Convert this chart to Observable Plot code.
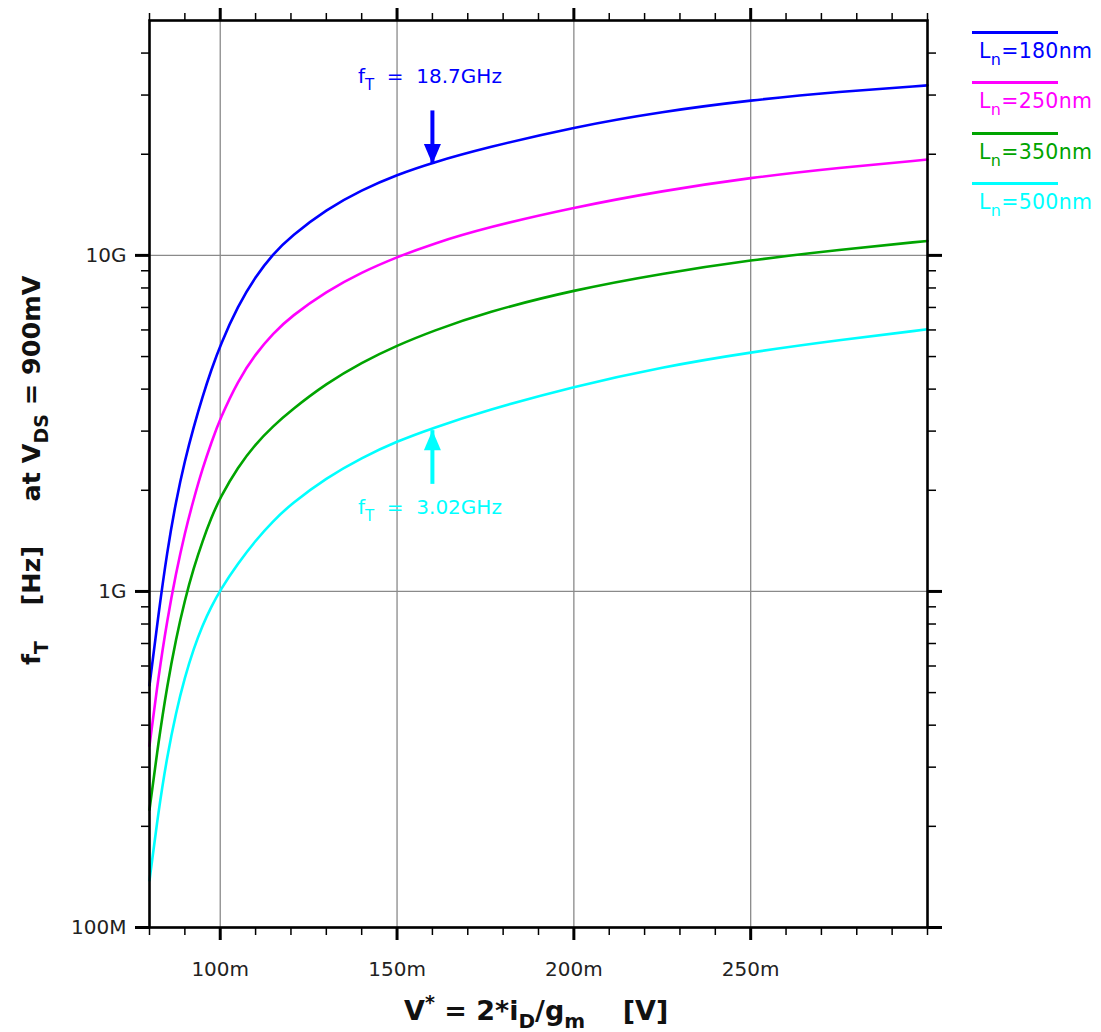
<!DOCTYPE html>
<html>
<head>
<meta charset="utf-8">
<script src="https://cdn.jsdelivr.net/npm/d3@7"></script>
<script src="https://cdn.jsdelivr.net/npm/@observablehq/plot@0.6"></script>
<style>
  body { margin: 0; background: white; }
  #wrap { position: relative; width: 1101px; height: 1032px; font-family: "DejaVu Sans", Verdana, sans-serif; }
  #chart { position: absolute; left: 0; top: 0; }
  .leg-line { position: absolute; left: 972px; width: 86px; height: 3px; }
  .leg-text { position: absolute; left: 979px; font-size: 20.5px; line-height: 1; white-space: pre; letter-spacing: 0.3px; }
  .leg-text sub { font-size: 16px; vertical-align: -7px; line-height: 0; }
</style>
</head>
<body>
<div id="wrap"><div id="chart"></div></div>
<script>
// ---- data ----
const vstar = [0.080, 0.0825, 0.085, 0.0875, 0.090, 0.0925, 0.095, 0.0975, 0.100, 0.105, 0.110, 0.115, 0.120, 0.130, 0.140, 0.150, 0.160, 0.175, 0.200, 0.225, 0.250, 0.275, 0.300]; // V
// fT in GHz
const ft180 = [0.525, 0.851, 1.318, 1.862, 2.455, 3.090, 3.802, 4.571, 5.408, 7.079, 8.660, 10.12, 11.40, 13.71, 15.67, 17.38, 18.88, 20.89, 24.10, 26.79, 28.97, 30.69, 32.06];
const ft250 = [0.347, 0.556, 0.822, 1.135, 1.496, 1.884, 2.323, 2.777, 3.273, 4.238, 5.093, 5.869, 6.577, 7.816, 8.913, 9.890, 10.82, 12.08, 13.90, 15.56, 17.04, 18.24, 19.28];
const ft350 = [0.224, 0.355, 0.525, 0.724, 0.944, 1.175, 1.413, 1.660, 1.905, 2.344, 2.748, 3.108, 3.457, 4.159, 4.803, 5.396, 5.954, 6.767, 7.896, 8.839, 9.683, 10.40, 11.04];
const ft500 = [0.138, 0.221, 0.324, 0.437, 0.556, 0.676, 0.794, 0.902, 1.010, 1.211, 1.419, 1.622, 1.820, 2.178, 2.500, 2.799, 3.062, 3.451, 4.074, 4.656, 5.152, 5.598, 6.026];

const seriesNames = ["180nm", "250nm", "350nm", "500nm"];
const seriesColors = ["#0000ff", "#ff00ff", "#00a400", "#00ffff"];
const seriesValues = [ft180, ft250, ft350, ft500];

const xMajor = [0.10, 0.15, 0.20, 0.25];
const xTickLabels = ["100m", "150m", "200m", "250m"];
const yMajor = [0.1, 1, 10];
const yTickLabels = ["100M", "1G", "10G"];

// annotations: arrow at V*=160m
const annotSeries = ["180nm", "500nm"];
const annotX = [0.16, 0.16];
const annotTip = [18.7, 3.02];     // GHz
const annotTail = [27.0, 2.09];    // GHz
const annotText = ["18.7GHz", "3.02GHz"];

// ---- build ----
const rows = [];
seriesNames.forEach((name, i) => vstar.forEach((v, j) => rows.push({v, ft: seriesValues[i][j], L: name})));
const arrows = annotSeries.map((L, i) => ({L, x: annotX[i], tip: annotTip[i], tail: annotTail[i]}));

const xMinor = d3.range(8, 31).map(k => k / 100);
const yMinor = yMajor.flatMap(d => d3.range(2, 10).map(k => k * d)).filter(v => v < 50);

const headDown = {draw(c) { c.moveTo(0, 0); c.lineTo(-8.5, -20); c.lineTo(8.5, -20); c.closePath(); }};
const headUp = {draw(c) { c.moveTo(0, 0); c.lineTo(-8.5, 20); c.lineTo(8.5, 20); c.closePath(); }};

const tickStyle = {fill: "none", label: null, stroke: "black"};

const plot = Plot.plot({
  width: 945,
  height: 1032,
  marginLeft: 149,
  marginRight: 18,
  marginTop: 20,
  marginBottom: 105,
  style: {fontFamily: "DejaVu Sans, Verdana, sans-serif", fontSize: "20px", color: "#222", background: "white"},
  x: {domain: [0.08, 0.3]},
  y: {type: "log", domain: [0.1, 50]},
  color: {domain: seriesNames, range: seriesColors},
  marks: [
    Plot.gridX(xMajor, {stroke: "#8a8a8a", strokeOpacity: 1, strokeWidth: 1.3}),
    Plot.gridY(yMajor, {stroke: "#8a8a8a", strokeOpacity: 1, strokeWidth: 1.3}),
    Plot.line(rows, {x: "v", y: "ft", z: "L", stroke: "L", strokeWidth: 2.6, curve: "basis"}),
    Plot.link(arrows, {x1: "x", x2: "x", y1: "tail", y2: "tip", stroke: "L", strokeWidth: 4}),
    Plot.dot(arrows.filter(d => d.L === "180nm"), {x: "x", y: "tip", fill: "L", stroke: "none", symbol: headDown}),
    Plot.dot(arrows.filter(d => d.L === "500nm"), {x: "x", y: "tip", fill: "L", stroke: "none", symbol: headUp}),
    // minor ticks
    Plot.axisX(xMinor, {anchor: "bottom", tickSize: 8, strokeWidth: 1.5, ...tickStyle}),
    Plot.axisX(xMinor, {anchor: "top", tickSize: 8, strokeWidth: 1.5, ...tickStyle}),
    Plot.axisY(yMinor, {anchor: "left", tickSize: 8, strokeWidth: 1.5, ...tickStyle}),
    Plot.axisY(yMinor, {anchor: "right", tickSize: 8, strokeWidth: 1.5, ...tickStyle}),
    // major ticks
    Plot.axisX(xMajor, {anchor: "bottom", tickSize: 13, strokeWidth: 3, ...tickStyle}),
    Plot.axisX(xMajor, {anchor: "top", tickSize: 13, strokeWidth: 3, ...tickStyle}),
    Plot.axisY(yMajor, {anchor: "left", tickSize: 14, strokeWidth: 3, ...tickStyle}),
    Plot.axisY(yMajor, {anchor: "right", tickSize: 14, strokeWidth: 3, ...tickStyle}),
    // tick labels
    Plot.axisX(xMajor, {anchor: "bottom", tickSize: 0, tickPadding: 34, label: null, fill: "#222",
      tickFormat: d => xTickLabels[xMajor.indexOf(d)]}),
    Plot.axisY(yMajor, {anchor: "left", tickSize: 0, tickPadding: 23, label: null, fill: "#222",
      tickFormat: d => yTickLabels[yMajor.indexOf(d)]}),
    Plot.frame({stroke: "black", strokeWidth: 2.6})
  ]
});
document.getElementById("chart").appendChild(plot);

const sx = plot.scale("x"), sy = plot.scale("y");
const svg = d3.select(plot);

// annotation labels
arrows.forEach((a, i) => {
  const color = seriesColors[seriesNames.indexOf(a.L)];
  const x0 = sx.apply(a.x) - 74;
  const yBase = i === 0 ? sy.apply(a.tail) - 27 : sy.apply(a.tail) + 31;
  const t = svg.append("text").attr("x", x0).attr("y", yBase).attr("text-anchor", "start")
    .attr("fill", color).attr("font-size", 20).style("white-space", "pre");
  t.append("tspan").text("f");
  t.append("tspan").attr("dy", 7).attr("font-size", 15).text("T");
  t.append("tspan").attr("dy", -7).text("  =  " + annotText[i]);
});

// x axis label
const xl = svg.append("text").attr("x", 404).attr("y", 1020).attr("text-anchor", "start")
  .attr("font-weight", "bold").attr("font-size", 27).attr("fill", "#111").style("white-space", "pre");
xl.append("tspan").text("V");
xl.append("tspan").attr("dy", -11).attr("font-size", 19).text("*");
xl.append("tspan").attr("dy", 11).text(" = 2*i");
xl.append("tspan").attr("dy", 8).attr("font-size", 20).text("D");
xl.append("tspan").attr("dy", -8).text("/g");
xl.append("tspan").attr("dy", 8).attr("font-size", 20).text("m");
xl.append("tspan").attr("dy", -8).text("    [V]");

// y axis label
const yl = svg.append("text").attr("transform", "translate(40,665) rotate(-90)").attr("text-anchor", "start")
  .attr("font-weight", "bold").attr("font-size", 25.5).attr("fill", "#111").style("white-space", "pre");
yl.append("tspan").text("f");
yl.append("tspan").attr("dy", 8).attr("font-size", 19).text("T");
yl.append("tspan").attr("dy", -8).text("    [Hz]     at V");
yl.append("tspan").attr("dy", 8).attr("font-size", 19).text("DS");
yl.append("tspan").attr("dy", -8).text(" = 900mV");

// legend (right of chart)
const wrap = d3.select("#wrap");
seriesNames.forEach((name, i) => {
  wrap.append("div").attr("class", "leg-line")
    .style("top", (31 + 50.3 * i) + "px").style("background", seriesColors[i]);
  wrap.append("div").attr("class", "leg-text")
    .style("top", (41 + 50.3 * i) + "px").style("color", seriesColors[i])
    .html("L<sub>n</sub>=" + name);
});
</script>
</body>
</html>
